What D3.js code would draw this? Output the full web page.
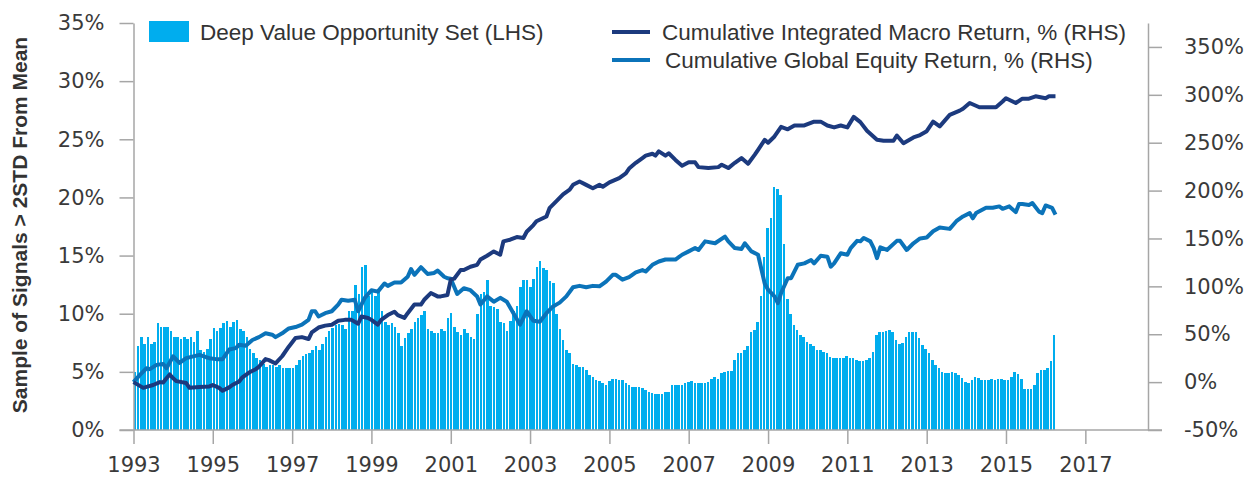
<!DOCTYPE html>
<html>
<head>
<meta charset="utf-8">
<script src="https://cdn.jsdelivr.net/npm/d3@7"></script>
<style>
  body { margin: 0; background: #fff; }
  svg text { fill: #333; }
  .axis text { font-family: "DejaVu Sans", sans-serif; font-size: 21px; fill: #3a3a3a; }
  .axis path, .axis line { stroke: #a6a6a6; stroke-width: 1.5; }
  .legend text { font-family: "Liberation Sans", Arial, sans-serif; font-size: 22.5px; }
  .title { font-family: "Liberation Sans", Arial, sans-serif; font-size: 21px; font-weight: bold; }
</style>
</head>
<body>
<svg id="chart" width="1254" height="479"></svg>
<script>
(function() {
var settings = {
  width: 1254,
  height: 479,
  plot: {left: 133.5, right: 1148, top: 23, bottom: 430},
  colors: {
    bars: "#00adee",
    macro: "#1c3a7e",
    equity: "#0b73b9",
    axis: "#a6a6a6"
  }
};

// share of signals > 2 std from mean, %, one value per month from Jan 1993
var opportunity = {
  1993: [5.0, 7.2, 8.0, 7.4, 8.0, 7.4, 7.6, 9.2, 8.9, 8.9, 8.9, 8.5],
  1994: [8.0, 8.0, 7.8, 8.0, 7.8, 8.0, 7.6, 8.5, 6.9, 6.7, 7.0, 7.8],
  1995: [8.8, 8.5, 8.8, 9.2, 9.4, 8.9, 9.3, 9.5, 8.7, 8.5, 8.0, 7.0],
  1996: [6.6, 6.2, 6.0, 5.7, 5.4, 5.6, 5.6, 5.4, 5.6, 5.3, 5.3, 5.3],
  1997: [5.3, 5.6, 6.0, 6.4, 6.5, 6.6, 6.9, 7.2, 6.9, 7.4, 8.0, 8.5],
  1998: [8.8, 9.0, 9.1, 9.0, 8.7, 10.2, 10.2, 12.5, 11.7, 14.0, 14.2, 11.5],
  1999: [11.9, 11.5, 12.0, 10.2, 9.3, 9.0, 9.2, 8.9, 8.3, 7.2, 7.9, 8.3],
  2000: [8.7, 9.3, 9.6, 9.9, 10.2, 8.7, 8.5, 8.3, 8.3, 8.7, 8.5, 9.6],
  2001: [10.1, 8.9, 8.4, 8.2, 8.7, 8.3, 8.0, 7.8, 10.0, 11.7, 11.9, 12.9],
  2002: [10.7, 10.6, 10.4, 9.3, 9.2, 8.5, 9.4, 10.2, 10.7, 12.3, 12.9, 12.9],
  2003: [12.3, 13.0, 14.0, 14.5, 13.9, 13.8, 12.8, 12.6, 10.0, 8.7, 7.7, 6.9],
  2004: [6.6, 5.7, 5.6, 5.4, 5.4, 5.2, 4.7, 4.6, 4.3, 4.2, 4.0, 3.9],
  2005: [4.2, 4.4, 4.4, 4.3, 4.3, 4.0, 3.9, 3.7, 3.7, 3.7, 3.6, 3.4],
  2006: [3.3, 3.2, 3.1, 3.1, 3.1, 3.3, 3.3, 3.9, 3.9, 3.9, 3.9, 4.0],
  2007: [4.1, 4.2, 4.0, 4.0, 4.0, 4.0, 4.1, 4.4, 4.6, 4.4, 4.9, 5.0],
  2008: [5.1, 5.1, 6.0, 6.6, 6.6, 6.9, 7.2, 8.4, 8.6, 9.3, 11.5, 14.9],
  2009: [17.4, 18.2, 20.9, 20.7, 20.2, 16.0, 11.3, 10.0, 9.0, 8.6, 8.2, 8.0],
  2010: [7.6, 7.4, 7.2, 6.9, 6.9, 6.7, 6.6, 6.3, 6.2, 6.2, 6.2, 6.2],
  2011: [6.4, 6.2, 6.2, 6.0, 5.9, 5.9, 6.0, 6.2, 6.7, 8.2, 8.4, 8.4],
  2012: [8.5, 8.6, 8.4, 7.7, 7.4, 7.5, 8.0, 8.4, 8.4, 8.4, 7.9, 7.3],
  2013: [7.0, 6.6, 6.0, 5.6, 5.3, 5.0, 4.9, 4.9, 5.0, 4.9, 4.7, 4.5],
  2014: [4.1, 4.0, 4.3, 4.6, 4.5, 4.3, 4.3, 4.3, 4.4, 4.3, 4.4, 4.4],
  2015: [4.3, 4.3, 4.6, 5.0, 4.8, 4.4, 3.5, 3.5, 3.5, 3.9, 4.9, 5.2],
  2016: [5.2, 5.3, 5.9, 8.2]
};

// cumulative returns, %
var macroReturn = [
  ["1993-01", 0], ["1993-04", -6], ["1993-05", -5], ["1993-07", -3], ["1993-09", 0],
  ["1993-10", -0.5], ["1993-11", 4], ["1993-12", 8], ["1994-01", 4], ["1994-02", 1],
  ["1994-05", -1], ["1994-06", -6], ["1994-09", -5], ["1994-12", -4.5], ["1995-01", -3],
  ["1995-03", -6], ["1995-04", -9], ["1995-06", -5.5], ["1995-07", -3], ["1995-09", 0.7],
  ["1995-10", 5], ["1995-12", 10], ["1996-02", 13.5], ["1996-03", 16], ["1996-05", 24],
  ["1996-06", 23], ["1996-08", 19.5], ["1996-10", 27], ["1996-12", 37], ["1997-02", 46],
  ["1997-04", 47], ["1997-06", 45], ["1997-07", 52], ["1997-09", 57], ["1997-11", 59],
  ["1998-01", 60], ["1998-03", 64], ["1998-05", 65], ["1998-07", 65], ["1998-09", 61],
  ["1998-10", 68.5], ["1998-12", 67], ["1999-01", 65], ["1999-03", 60], ["1999-04", 65],
  ["1999-06", 70], ["1999-08", 73.5], ["1999-09", 70], ["1999-11", 67], ["1999-12", 72],
  ["2000-02", 81], ["2000-04", 81], ["2000-05", 86], ["2000-07", 93], ["2000-09", 89.5],
  ["2000-10", 89.5], ["2000-12", 91], ["2001-01", 107], ["2001-02", 108], ["2001-04", 117],
  ["2001-05", 117], ["2001-07", 120.5], ["2001-09", 122.5], ["2001-10", 128], ["2001-12", 132],
  ["2002-02", 136.5], ["2002-04", 133], ["2002-05", 147], ["2002-07", 148.7], ["2002-09", 151.5],
  ["2002-11", 150.5], ["2002-12", 157], ["2003-02", 164], ["2003-03", 168], ["2003-06", 173],
  ["2003-07", 182], ["2003-09", 189], ["2003-11", 196], ["2004-01", 201], ["2004-02", 206],
  ["2004-04", 209.5], ["2004-06", 206], ["2004-08", 202.5], ["2004-10", 206], ["2004-11", 204],
  ["2005-01", 208.5], ["2005-04", 213], ["2005-06", 218], ["2005-07", 223], ["2005-09", 229],
  ["2005-11", 234], ["2005-12", 236.5], ["2006-02", 238.5], ["2006-03", 236.5], ["2006-04", 241],
  ["2006-06", 236.5], ["2006-07", 239], ["2006-09", 232], ["2006-11", 226], ["2007-01", 229.5],
  ["2007-03", 229.5], ["2007-04", 224.5], ["2007-07", 223.5], ["2007-10", 224.5], ["2007-11", 227],
  ["2008-01", 223.5], ["2008-03", 229], ["2008-05", 234], ["2008-07", 228], ["2008-09", 237.5],
  ["2008-10", 242.5], ["2008-12", 253], ["2009-01", 250], ["2009-03", 256.5], ["2009-05", 266.5],
  ["2009-07", 264], ["2009-09", 268], ["2009-12", 268], ["2010-03", 272], ["2010-05", 272],
  ["2010-07", 268], ["2010-09", 266], ["2010-11", 268], ["2011-01", 266], ["2011-03", 277],
  ["2011-05", 271.5], ["2011-07", 262.5], ["2011-10", 253], ["2011-12", 252], ["2012-03", 252],
  ["2012-04", 257.5], ["2012-06", 249.5], ["2012-09", 255.5], ["2012-11", 258], ["2013-01", 262],
  ["2013-03", 272], ["2013-05", 267], ["2013-08", 279], ["2013-11", 283.5], ["2013-12", 285.5],
  ["2014-02", 291.5], ["2014-05", 287], ["2014-08", 287], ["2014-10", 287], ["2014-12", 293],
  ["2015-01", 296.5], ["2015-04", 291.5], ["2015-06", 296], ["2015-08", 296], ["2015-10", 298.5],
  ["2016-01", 296.5], ["2016-02", 298.5], ["2016-04", 298.5]
];

var equityReturn = [
  ["1993-01", 0], ["1993-03", 7.6], ["1993-05", 14.5], ["1993-06", 13.5], ["1993-08", 18],
  ["1993-10", 19], ["1993-11", 14.5], ["1994-01", 27], ["1994-03", 20], ["1994-05", 25],
  ["1994-09", 28.5], ["1994-11", 26], ["1994-12", 25], ["1995-02", 24], ["1995-04", 24],
  ["1995-06", 34], ["1995-08", 35.5], ["1995-09", 39], ["1995-11", 38], ["1996-01", 44],
  ["1996-03", 47], ["1996-05", 51], ["1996-07", 49.5], ["1996-08", 47], ["1996-10", 51],
  ["1996-12", 56], ["1997-02", 57.5], ["1997-04", 60], ["1997-06", 65], ["1997-07", 74],
  ["1997-08", 74], ["1997-09", 68.5], ["1997-11", 72], ["1998-01", 74], ["1998-03", 81],
  ["1998-04", 86], ["1998-06", 85], ["1998-08", 86], ["1998-09", 74], ["1998-11", 88],
  ["1999-01", 96], ["1999-03", 94.5], ["1999-05", 103], ["1999-06", 100.5], ["1999-08", 104],
  ["1999-10", 104], ["1999-12", 110], ["2000-01", 118], ["2000-02", 112], ["2000-04", 120],
  ["2000-06", 113], ["2000-08", 114], ["2000-09", 116.5], ["2000-11", 110], ["2000-12", 108.5],
  ["2001-01", 108], ["2001-03", 92], ["2001-05", 98], ["2001-07", 96], ["2001-09", 89.5],
  ["2001-10", 81], ["2001-12", 89.5], ["2002-02", 84], ["2002-04", 88], ["2002-06", 84],
  ["2002-08", 72], ["2002-10", 60], ["2002-12", 74], ["2003-02", 64], ["2003-04", 63],
  ["2003-06", 72], ["2003-08", 79], ["2003-10", 83], ["2003-12", 89.5], ["2004-02", 99],
  ["2004-04", 100.5], ["2004-06", 99], ["2004-08", 100.5], ["2004-10", 100], ["2004-12", 105],
  ["2005-02", 112], ["2005-03", 112], ["2005-05", 107], ["2005-07", 109.7], ["2005-09", 114.5],
  ["2005-11", 117], ["2005-12", 115.5], ["2006-02", 122.5], ["2006-04", 126], ["2006-06", 128],
  ["2006-09", 128], ["2006-11", 133], ["2007-01", 136.5], ["2007-03", 140], ["2007-04", 138],
  ["2007-06", 147], ["2007-09", 145], ["2007-12", 152], ["2008-01", 147], ["2008-03", 140],
  ["2008-05", 139], ["2008-06", 145], ["2008-08", 136.5], ["2008-10", 133], ["2008-12", 103],
  ["2009-01", 96.5], ["2009-03", 89.5], ["2009-04", 82.5], ["2009-05", 93], ["2009-07", 108.5],
  ["2009-08", 108.5], ["2009-10", 122.5], ["2009-12", 124], ["2010-02", 127.5], ["2010-03", 124],
  ["2010-05", 132], ["2010-07", 131], ["2010-08", 120.5], ["2010-09", 124], ["2010-11", 134.5],
  ["2011-01", 133], ["2011-02", 140], ["2011-04", 147.5], ["2011-05", 147], ["2011-06", 150.5],
  ["2011-08", 147], ["2011-09", 140], ["2011-10", 129.5], ["2011-11", 140.7], ["2012-01", 138],
  ["2012-04", 147.5], ["2012-05", 147.5], ["2012-07", 138], ["2012-09", 145], ["2012-11", 150],
  ["2013-01", 151], ["2013-03", 157.5], ["2013-05", 161.5], ["2013-08", 160], ["2013-10", 168],
  ["2013-12", 173], ["2014-02", 176.5], ["2014-03", 171], ["2014-04", 176.5], ["2014-07", 182],
  ["2014-09", 182], ["2014-11", 183.5], ["2014-12", 181], ["2015-02", 183.5], ["2015-04", 177.5],
  ["2015-05", 186], ["2015-06", 186], ["2015-08", 185], ["2015-09", 187], ["2015-11", 178],
  ["2015-12", 176.5], ["2016-01", 184.5], ["2016-03", 182], ["2016-04", 175]
];

var parseMonth = d3.timeParse("%Y-%m"),
  svg = d3.select("#chart"),
  p = settings.plot,
  months = [],
  toPoints = function(rows) {
    return rows.map(function(r) { return {date: parseMonth(r[0]), value: r[1]}; });
  },
  macro = toPoints(macroReturn),
  equity = toPoints(equityReturn),
  x, band, yL, yR, line, axisG, legend;

Object.keys(opportunity).forEach(function(year) {
  opportunity[year].forEach(function(v, m) {
    months.push({key: year + "-" + (m + 1), date: new Date(+year, m, 1), value: v});
  });
});

x = d3.scaleTime()
  .domain([new Date(1993, 0, 1), new Date(2018, 7, 1)])
  .range([p.left, p.right]);

band = d3.scaleBand()
  .domain(months.map(function(d) { return d.key; }))
  .range([x(months[0].date), x(months[months.length - 1].date)])
  .paddingInner(0.22);

yL = d3.scaleLinear().domain([0, 35]).range([p.bottom, p.top]);
yR = d3.scaleLinear().domain([-50, 375]).range([p.bottom, p.top]);

// bars
svg.append("g")
  .attr("class", "bars")
  .selectAll("rect")
  .data(months)
  .enter()
  .append("rect")
    .attr("x", function(d) { return band(d.key); })
    .attr("width", band.bandwidth())
    .attr("y", function(d) { return yL(d.value); })
    .attr("height", function(d) { return yL(0) - yL(d.value); })
    .attr("fill", settings.colors.bars)
    .attr("shape-rendering", "crispEdges");

// axes
axisG = svg.append("g").attr("class", "axis");

axisG.append("g")
  .attr("transform", "translate(" + p.left + ",0)")
  .call(d3.axisLeft(yL)
    .tickValues(d3.range(0, 36, 5))
    .tickSize(14)
    .tickPadding(15)
    .tickSizeOuter(0)
    .tickFormat(function(d) { return d + "%"; }));

axisG.append("g")
  .attr("transform", "translate(" + p.right + ",0)")
  .call(d3.axisRight(yR)
    .tickValues(d3.range(-50, 351, 50))
    .tickSize(14)
    .tickPadding(22)
    .tickSizeOuter(0)
    .tickFormat(function(d) { return d + "%"; }));

axisG.append("g")
  .attr("transform", "translate(0," + p.bottom + ")")
  .call(d3.axisBottom(x)
    .tickValues(d3.range(1993, 2018, 2).map(function(y) { return new Date(y, 0, 1); }))
    .tickSize(14)
    .tickPadding(13)
    .tickFormat(d3.timeFormat("%Y")))
  .call(function(g) { g.select(".domain").remove(); });

axisG.append("line")
  .attr("x1", p.left - 14)
  .attr("x2", p.right + 14)
  .attr("y1", p.bottom)
  .attr("y2", p.bottom);

// lines
line = d3.line()
  .x(function(d) { return x(d.date); })
  .y(function(d) { return yR(d.value); });

svg.append("path")
  .datum(equity)
  .attr("d", line)
  .attr("fill", "none")
  .attr("stroke", settings.colors.equity)
  .attr("stroke-width", 4)
  .attr("stroke-linejoin", "round");

svg.append("path")
  .datum(macro)
  .attr("d", line)
  .attr("fill", "none")
  .attr("stroke", settings.colors.macro)
  .attr("stroke-width", 4)
  .attr("stroke-linejoin", "round");

// legend
legend = svg.append("g").attr("class", "legend");

legend.append("rect")
  .attr("x", 149).attr("y", 21).attr("width", 40).attr("height", 21)
  .attr("fill", settings.colors.bars);
legend.append("text")
  .attr("x", 200).attr("y", 32).attr("dy", "0.35em")
  .text("Deep Value Opportunity Set (LHS)");

[
  {label: "Cumulative Integrated Macro Return, % (RHS)", color: settings.colors.macro, y: 32, tx: 662},
  {label: "Cumulative Global Equity Return, % (RHS)", color: settings.colors.equity, y: 60, tx: 665}
].forEach(function(item) {
  legend.append("line")
    .attr("x1", 612).attr("x2", 650)
    .attr("y1", item.y).attr("y2", item.y)
    .attr("stroke", item.color)
    .attr("stroke-width", 4);
  legend.append("text")
    .attr("x", item.tx).attr("y", item.y).attr("dy", "0.35em")
    .text(item.label);
});

svg.append("text")
  .attr("class", "title")
  .attr("transform", "translate(27,225) rotate(-90)")
  .attr("text-anchor", "middle")
  .text("Sample of Signals > 2STD From Mean");
})();
</script>
</body>
</html>
